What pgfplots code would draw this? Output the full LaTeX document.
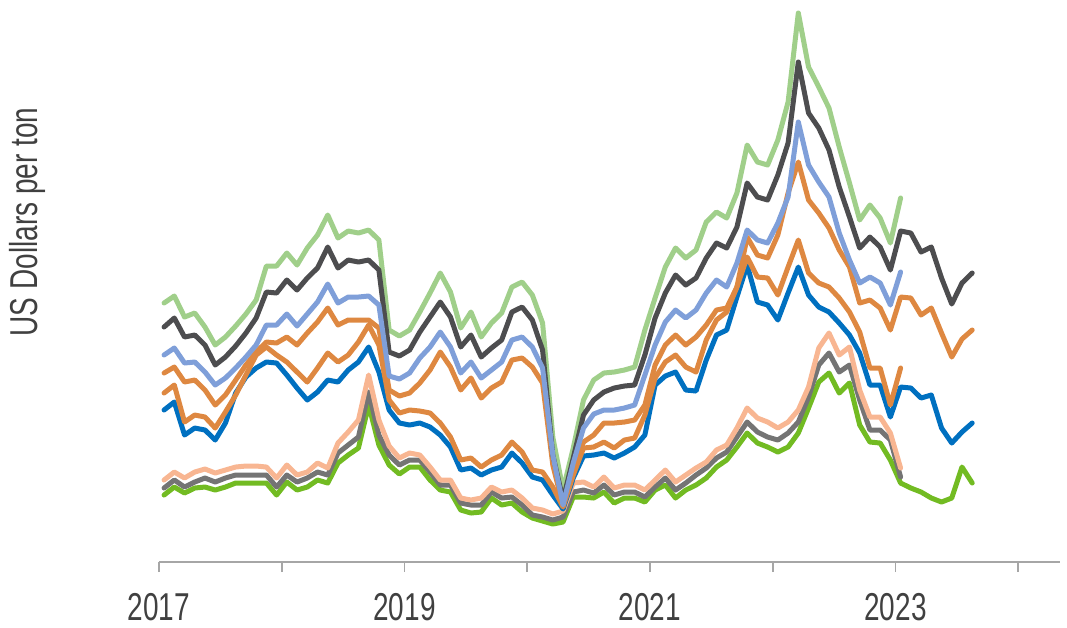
\documentclass[border=0pt]{standalone}
\usepackage{fontspec}
\setmainfont{Liberation Sans}[FakeStretch=0.72]
\usepackage{pgfplots}
\usepackage{pgfplotstable}
\pgfplotsset{compat=1.18}
\definecolor{cA}{HTML}{A0CF8A}
\definecolor{cB}{HTML}{4D4D4F}
\definecolor{cC}{HTML}{7F9FD9}
\definecolor{cD}{HTML}{DE8841}
\definecolor{cE}{HTML}{DE8841}
\definecolor{cF}{HTML}{0070C0}
\definecolor{cG}{HTML}{F8B692}
\definecolor{cH}{HTML}{747474}
\definecolor{cI}{HTML}{72BB22}
\definecolor{txt}{HTML}{404040}
\definecolor{axgray}{HTML}{A6A6A6}

% monthly values, m = months since Jan 2017 (nan = not published)
\pgfplotstableread{
m A B C D E F G H I
0 259 235 207 189 169 152 82 74 67
1 266 244 214 195 177 160 90 82 75
2 245 225 199 180 140 127 84 75 69
3 249 227 200 182 147 134 90 80 74
4 235 217 190 172 145 132 93 84 75
5 217 197 177 157 134 122 89 80 72
6 225 205 184 167 150 139 92 84 75
7 236 216 194 182 167 169 95 87 79
8 248 229 205 197 187 185 96 87 79
9 262 244 217 210 207 194 96 87 79
10 296 270 237 220 215 200 95 87 79
11 296 269 237 219 207 199 84 75 67
12 309 282 248 225 200 187 97 87 80
13 297 272 236 217 190 174 87 80 72
14 314 284 248 229 180 162 90 84 75
15 327 294 260 240 194 170 99 90 82
16 347 315 278 254 209 182 94 87 79
17 324 294 259 237 200 180 119 109 99
18 331 302 265 242 207 192 130 117 107
19 329 300 265 242 220 200 142 125 114
20 332 302 266 242 237 215 187 170 157
21 322 292 257 234 217 190 142 127 117
22 232 210 186 172 162 152 116 107 97
23 226 206 183 166 149 139 104 97 88
24 232 212 189 169 152 137 109 102 95
25 250 230 204 179 151 139 107 102 95
26 269 245 215 192 149 135 95 90 82
27 289 260 230 210 139 127 82 77 72
28 270 245 215 195 125 115 82 77 70
29 234 215 189 172 102 92 64 59 52
30 250 227 200 184 104 94 62 57 49
31 225 205 184 164 95 87 64 57 50
32 239 214 192 174 102 92 75 70 64
33 249 222 200 180 107 95 70 64 57
34 275 250 222 202 120 109 72 65 59
35 280 255 225 204 110 99 64 57 50
36 267 242 215 195 92 85 54 47 44
37 239 212 194 179 90 82 52 45 41
38 125 107 107 97 75 67 48 42 38
39 72 62 57 56 55 53 51 45 40
40 114 104 99 92 87 84 79 70 65
41 162 147 134 120 114 106 80 72 65
42 182 162 148 127 115 107 75 69 64
43 189 170 152 139 120 109 85 77 70
44 190 174 152 139 114 104 74 67 59
45 192 176 154 140 122 109 77 70 64
46 195 177 157 142 124 115 77 70 64
47 232 207 187 157 147 127 72 65 60
48 264 244 217 197 184 177 82 75 72
49 295 269 240 217 200 186 92 84 77
50 314 287 252 227 207 190 80 72 64
51 304 277 244 217 195 172 87 79 72
52 312 284 252 225 190 171 94 87 77
53 340 304 269 237 222 202 100 94 84
54 350 319 282 252 242 227 112 104 95
55 344 314 275 254 250 232 117 110 102
56 369 335 299 275 275 265 134 125 115
57 417 379 332 325 305 297 154 140 129
58 400 365 322 307 285 260 144 130 119
59 397 362 319 304 284 257 140 125 115
60 422 387 339 327 267 242 134 122 110
61 460 419 365 369 295 269 140 129 115
62 549 500 440 400 322 295 152 140 129
63 495 449 397 362 289 267 175 165 154
64 475 434 380 349 279 255 214 197 180
65 454 412 365 334 275 250 229 209 189
66 415 375 329 312 264 239 207 190 169
67 379 345 302 295 250 227 215 197 179
68 342 314 279 259 230 209 172 162 137
69 357 325 285 262 194 177 145 132 120
70 344 315 279 254 194 177 145 132 119
71 319 292 257 232 157 145 129 122 102
72 364 331 290 265 194 175 94 85 79
73 nan 329 nan 264 nan 174 nan nan 74
74 nan 310 nan 247 nan 164 nan nan 70
75 nan 315 nan 254 nan 167 nan nan 64
76 nan 284 nan 229 nan 134 nan nan 60
77 nan 258 nan 205 nan 119 nan nan 64
78 nan 279 nan 223 nan 130 nan nan 95
79 nan 289 nan 232 nan 139 nan nan 79
}\prices

\begin{document}
\begin{tikzpicture}
\begin{axis}[
    scale only axis, width=450.5bp, height=277.5bp,
    xmin=2017, xmax=2024.34, ymin=0, ymax=555,
    enlargelimits=false, clip=false,
    axis x line*=bottom, axis y line=none,
    x axis line style={axgray, line width=1bp},
    xtick={2017,2018,...,2024},
    xticklabels={2017,,2019,,2021,,2023,},
    tick align=outside, major tick length=5bp,
    xtick style={axgray, line width=0.8bp},
    ytick=\empty,
    /pgf/number format/assume math mode=true,
    xticklabel style={font=\fontsize{19.5}{23}\selectfont, text=txt, yshift=-7bp},
    every axis plot/.append style={line width=2.5bp, line join=round, line cap=round, mark=none},
    x filter/.expression={x},
  ]
  \addplot[cI] table[x expr=2017+(\thisrow{m}+0.5)/12, y=I]{\prices};
  \addplot[cH] table[x expr=2017+(\thisrow{m}+0.5)/12, y=H]{\prices};
  \addplot[cG] table[x expr=2017+(\thisrow{m}+0.5)/12, y=G]{\prices};
  \addplot[cF] table[x expr=2017+(\thisrow{m}+0.5)/12, y=F]{\prices};
  \addplot[cE] table[x expr=2017+(\thisrow{m}+0.5)/12, y=E]{\prices};
  \addplot[cD] table[x expr=2017+(\thisrow{m}+0.5)/12, y=D]{\prices};
  \addplot[cA] table[x expr=2017+(\thisrow{m}+0.5)/12, y=A]{\prices};
  \addplot[cB] table[x expr=2017+(\thisrow{m}+0.5)/12, y=B]{\prices};
  \addplot[cC] table[x expr=2017+(\thisrow{m}+0.5)/12, y=C]{\prices};
  \node[rotate=90, text=txt, font=\fontsize{19.5}{23}\selectfont]
    at (axis cs:2015.925,340) {US Dollars per ton};
  \path (axis cs:2015.705,-63) rectangle (axis cs:2024.397,562);
\end{axis}
\end{tikzpicture}
\end{document}
